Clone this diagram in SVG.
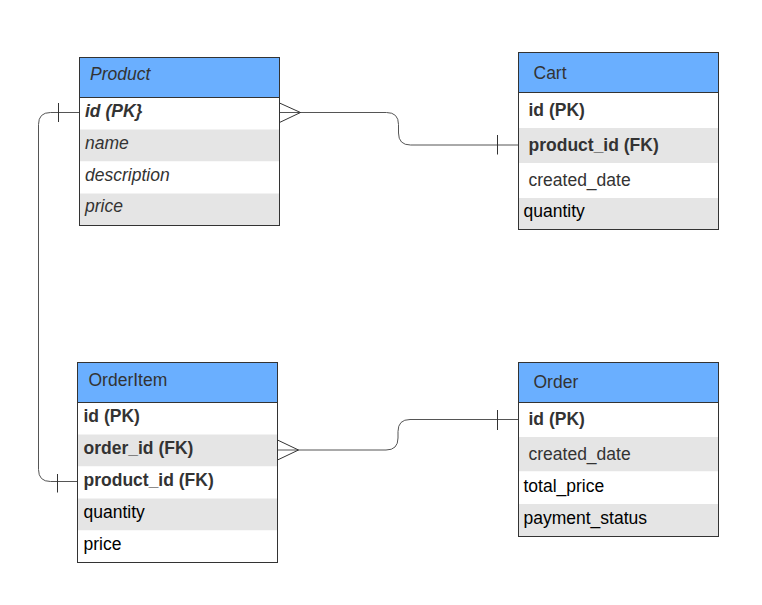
<svg xmlns="http://www.w3.org/2000/svg" width="762" height="605" viewBox="0 0 762 605">
<style>
text{font-family:"Liberation Sans",Arial,sans-serif;font-size:17.5px;fill:#333}
.hdr{fill:#6aafff}
.grey{fill:#e5e5e5}
.white{fill:#fff}
.box{fill:none;stroke:#333;stroke-width:1}
.sep{stroke:#333;stroke-width:1}
.b{font-weight:bold}
.i{font-style:italic}
.k{fill:#000}
.conn path{fill:none;stroke:#555;stroke-width:1}
.conn .mk{stroke:#333}
</style>
<rect width="762" height="605" fill="#fff"/>
<g id="connectors" class="conn">
<path d="M279.5,112.5 H386.5 Q398.5,112.5 398.5,124.5 V133 Q398.5,145 410.5,145 H518.5"/>
<path class="mk" d="M279.5,103 L300.5,112.5 L279.5,122.5"/>
<path class="mk" d="M497.5,135 V154.5"/>
<path d="M79.5,112.5 H50.5 Q38.5,112.5 38.5,124.5 V469.5 Q38.5,481.5 50.5,481.5 H77.5"/>
<path class="mk" d="M58.5,103 V122"/>
<path class="mk" d="M57.5,474 V492.5"/>
<path d="M277.5,450 H386 Q398,450 398,438 V431.5 Q398,419.5 410,419.5 H518.5"/>
<path class="mk" d="M277.5,440 L298.5,450 L277.5,460"/>
<path class="mk" d="M497.5,410 V430"/>
</g>
<g id="product">
<rect class="hdr" x="79.5" y="57.5" width="200" height="40"/>
<rect class="white" x="79.5" y="97.5" width="200" height="32"/>
<rect class="grey" x="79.5" y="129.5" width="200" height="32"/>
<rect class="white" x="79.5" y="161.5" width="200" height="32"/>
<rect class="grey" x="79.5" y="193.5" width="200" height="32"/>
<line class="sep" x1="79.5" y1="97.5" x2="279.5" y2="97.5"/>
<rect class="box" x="79.5" y="57.5" width="200" height="168"/>
<text class="i" x="90" y="80">Product</text>
<text class="b i" x="85" y="117">id (PK}</text>
<text class="i" x="85" y="148.5">name</text>
<text class="i" x="85" y="180.5">description</text>
<text class="i" x="85" y="212">price</text>
</g>
<g id="cart">
<rect class="hdr" x="518.5" y="52.5" width="200" height="40"/>
<rect class="white" x="518.5" y="92.5" width="200" height="35.5"/>
<rect class="grey" x="518.5" y="128" width="200" height="35"/>
<rect class="white" x="518.5" y="163" width="200" height="35"/>
<rect class="grey" x="518.5" y="198" width="200" height="31.5"/>
<line class="sep" x1="518.5" y1="92.5" x2="718.5" y2="92.5"/>
<rect class="box" x="518.5" y="52.5" width="200" height="177"/>
<text x="533.5" y="78.5">Cart</text>
<text class="b" x="528.5" y="115.5">id (PK)</text>
<text class="b" x="528.5" y="150.5">product_id (FK)</text>
<text x="528.5" y="185.5">created_date</text>
<text class="k" x="523.5" y="217">quantity</text>
</g>
<g id="orderitem">
<rect class="hdr" x="77.5" y="362.5" width="200" height="40"/>
<rect class="white" x="77.5" y="402.5" width="200" height="32"/>
<rect class="grey" x="77.5" y="434.5" width="200" height="32"/>
<rect class="white" x="77.5" y="466.5" width="200" height="32"/>
<rect class="grey" x="77.5" y="498.5" width="200" height="32"/>
<rect class="white" x="77.5" y="530.5" width="200" height="32"/>
<line class="sep" x1="77.5" y1="402.5" x2="277.5" y2="402.5"/>
<rect class="box" x="77.5" y="362.5" width="200" height="200"/>
<text x="88.5" y="386">OrderItem</text>
<text class="b" x="83.5" y="422">id (PK)</text>
<text class="b" x="83.5" y="454">order_id (FK)</text>
<text class="b" x="83.5" y="486">product_id (FK)</text>
<text class="k" x="83.5" y="517.5">quantity</text>
<text class="k" x="83.5" y="549.5">price</text>
</g>
<g id="order">
<rect class="hdr" x="518.5" y="362.5" width="200" height="40"/>
<rect class="white" x="518.5" y="402.5" width="200" height="34.5"/>
<rect class="grey" x="518.5" y="437" width="200" height="34.5"/>
<rect class="white" x="518.5" y="471.5" width="200" height="32.5"/>
<rect class="grey" x="518.5" y="504" width="200" height="32.5"/>
<line class="sep" x1="518.5" y1="402.5" x2="718.5" y2="402.5"/>
<rect class="box" x="518.5" y="362.5" width="200" height="174"/>
<text x="533.5" y="387.5">Order</text>
<text class="b" x="528.5" y="425">id (PK)</text>
<text x="528.5" y="459.5">created_date</text>
<text class="k" x="523.5" y="492">total_price</text>
<text class="k" x="523.5" y="523.5">payment_status</text>
</g>
</svg>
